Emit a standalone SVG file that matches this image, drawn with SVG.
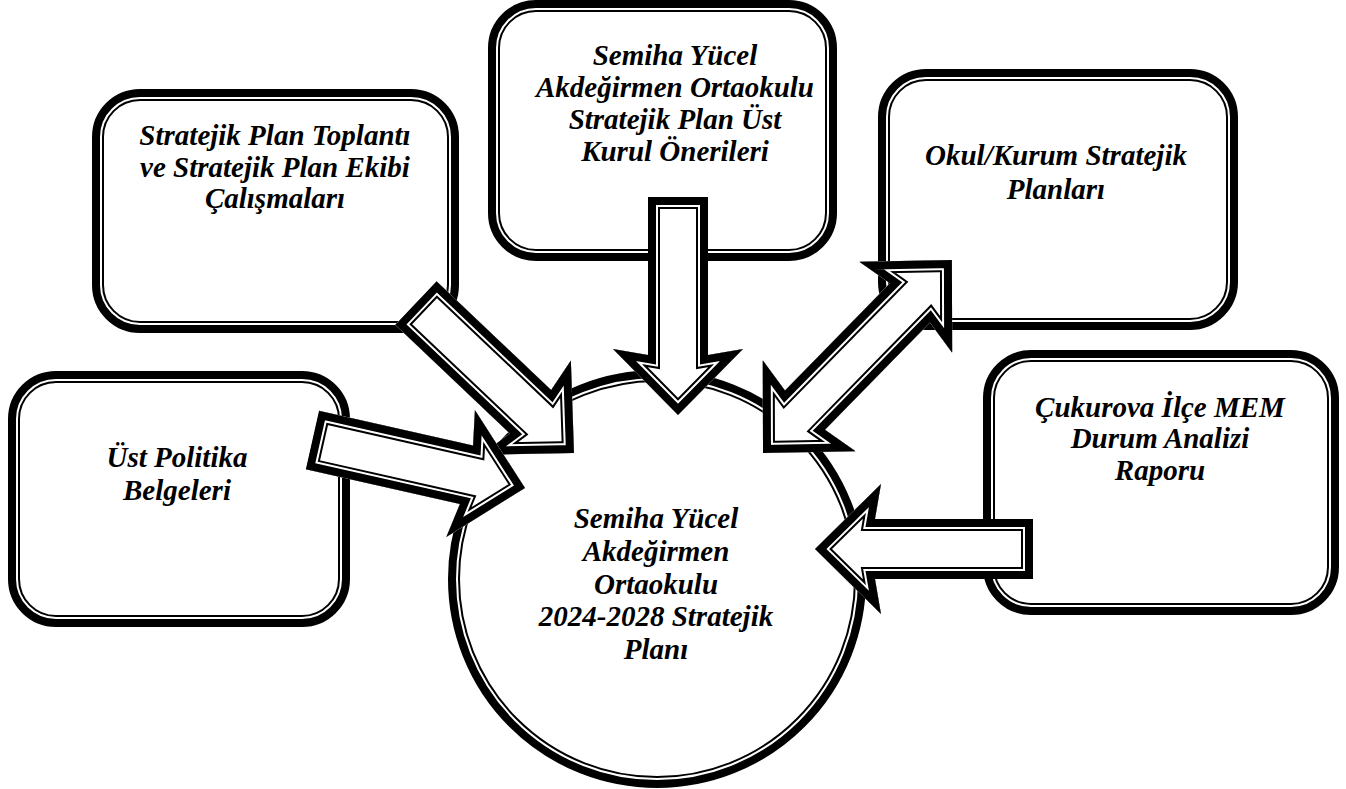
<svg xmlns="http://www.w3.org/2000/svg" xmlns:xlink="http://www.w3.org/1999/xlink" width="1346" height="789" viewBox="0 0 1346 789">
<style>
  .bo { fill: #fff; stroke: #000; stroke-width: 8; }
  .bi { fill: none; stroke: #000; stroke-width: 2; }
  .t { font-family: "Liberation Serif", "Times New Roman", serif; font-weight: bold; font-style: italic; font-size: 29px; fill: #000; text-anchor: middle; }
  .af { fill: #fff; stroke: none; }
  .a1 { fill: none; stroke: #000; stroke-width: 24; stroke-linejoin: miter; stroke-miterlimit: 10; }
  .a2 { fill: none; stroke: #fff; stroke-width: 20; stroke-linejoin: miter; stroke-miterlimit: 10; }
  .a3 { fill: none; stroke: #000; stroke-width: 16; stroke-linejoin: miter; stroke-miterlimit: 10; }
</style>
<defs>
  <path id="arrowShape" d="M0,0 L-66,65 L-60,30 L-218,30 L-218,-30 L-60,-30 L-66,-65 Z"/>
  <path id="dblShape" d="M0,0 L66,-65 L60,-28 L210,-28 L204,-65 L270,0 L204,65 L210,28 L60,28 L66,65 Z"/>
  <clipPath id="clipArrow"><use xlink:href="#arrowShape"/></clipPath>
  <clipPath id="clipDbl"><use xlink:href="#dblShape"/></clipPath>
</defs>
<rect width="1346" height="789" fill="#fff"/>

<g id="node-toplanti">
  <rect class="bo" x="96" y="93" width="359" height="236" rx="44"/>
  <rect class="bi" x="103" y="100" width="345" height="222" rx="37"/>
  <text class="t" x="275" y="145">Stratejik Plan Toplantı</text>
  <text class="t" x="275" y="177">ve Stratejik Plan Ekibi</text>
  <text class="t" x="275" y="208">Çalışmaları</text>
</g>

<g id="node-ustkurul">
  <rect class="bo" x="492" y="4" width="341" height="253" rx="44"/>
  <rect class="bi" x="499" y="11" width="327" height="239" rx="37"/>
  <text class="t" x="675" y="65">Semiha Yücel</text>
  <text class="t" x="675" y="97">Akdeğirmen Ortaokulu</text>
  <text class="t" x="675" y="129">Stratejik Plan Üst</text>
  <text class="t" x="675" y="161">Kurul Önerileri</text>
</g>

<g id="node-okulkurum">
  <rect class="bo" x="882" y="73" width="352" height="253" rx="44"/>
  <rect class="bi" x="889" y="80" width="338" height="239" rx="37"/>
  <text class="t" x="1056" y="165">Okul/Kurum Stratejik</text>
  <text class="t" x="1056" y="199">Planları</text>
</g>

<g id="node-cukurova">
  <rect class="bo" x="987" y="354" width="348" height="257" rx="44"/>
  <rect class="bi" x="994" y="361" width="334" height="243" rx="37"/>
  <text class="t" x="1160" y="417">Çukurova İlçe MEM</text>
  <text class="t" x="1160" y="448">Durum Analizi</text>
  <text class="t" x="1160" y="480">Raporu</text>
</g>

<g id="node-ustpolitika">
  <rect class="bo" x="12" y="375" width="334" height="248" rx="44"/>
  <rect class="bi" x="19" y="382" width="320" height="234" rx="37"/>
  <text class="t" x="177" y="467">Üst Politika</text>
  <text class="t" x="177" y="500">Belgeleri</text>
</g>

<g id="node-plan">
  <circle cx="657" cy="579" r="205" fill="#fff" stroke="#000" stroke-width="8"/>
  <circle cx="657" cy="579" r="198" fill="none" stroke="#000" stroke-width="2"/>
  <text class="t" x="656" y="528">Semiha Yücel</text>
  <text class="t" x="656" y="561">Akdeğirmen</text>
  <text class="t" x="656" y="594">Ortaokulu</text>
  <text class="t" x="656" y="626">2024-2028 Stratejik</text>
  <text class="t" x="656" y="659">Planı</text>
</g>

<g id="connectors">
  <g id="arrow-toplanti" transform="translate(574,453) rotate(43.5)">
    <use xlink:href="#arrowShape" class="af"/>
    <use xlink:href="#arrowShape" class="a1" clip-path="url(#clipArrow)"/>
    <use xlink:href="#arrowShape" class="a2" clip-path="url(#clipArrow)"/>
    <use xlink:href="#arrowShape" class="a3" clip-path="url(#clipArrow)"/>
  </g>
  <g id="arrow-ustkurul" transform="translate(678,415) rotate(90)">
    <use xlink:href="#arrowShape" class="af"/>
    <use xlink:href="#arrowShape" class="a1" clip-path="url(#clipArrow)"/>
    <use xlink:href="#arrowShape" class="a2" clip-path="url(#clipArrow)"/>
    <use xlink:href="#arrowShape" class="a3" clip-path="url(#clipArrow)"/>
  </g>
  <g id="arrow-okulkurum" transform="translate(763,453) rotate(-45.6)">
    <use xlink:href="#dblShape" class="af"/>
    <use xlink:href="#dblShape" class="a1" clip-path="url(#clipDbl)"/>
    <use xlink:href="#dblShape" class="a2" clip-path="url(#clipDbl)"/>
    <use xlink:href="#dblShape" class="a3" clip-path="url(#clipDbl)"/>
  </g>
  <g id="arrow-cukurova" transform="translate(815,549) rotate(180)">
    <use xlink:href="#arrowShape" class="af"/>
    <use xlink:href="#arrowShape" class="a1" clip-path="url(#clipArrow)"/>
    <use xlink:href="#arrowShape" class="a2" clip-path="url(#clipArrow)"/>
    <use xlink:href="#arrowShape" class="a3" clip-path="url(#clipArrow)"/>
  </g>
  <g id="arrow-ustpolitika" transform="translate(525,488) rotate(12.7)">
    <use xlink:href="#arrowShape" class="af"/>
    <use xlink:href="#arrowShape" class="a1" clip-path="url(#clipArrow)"/>
    <use xlink:href="#arrowShape" class="a2" clip-path="url(#clipArrow)"/>
    <use xlink:href="#arrowShape" class="a3" clip-path="url(#clipArrow)"/>
  </g>
</g>
</svg>
